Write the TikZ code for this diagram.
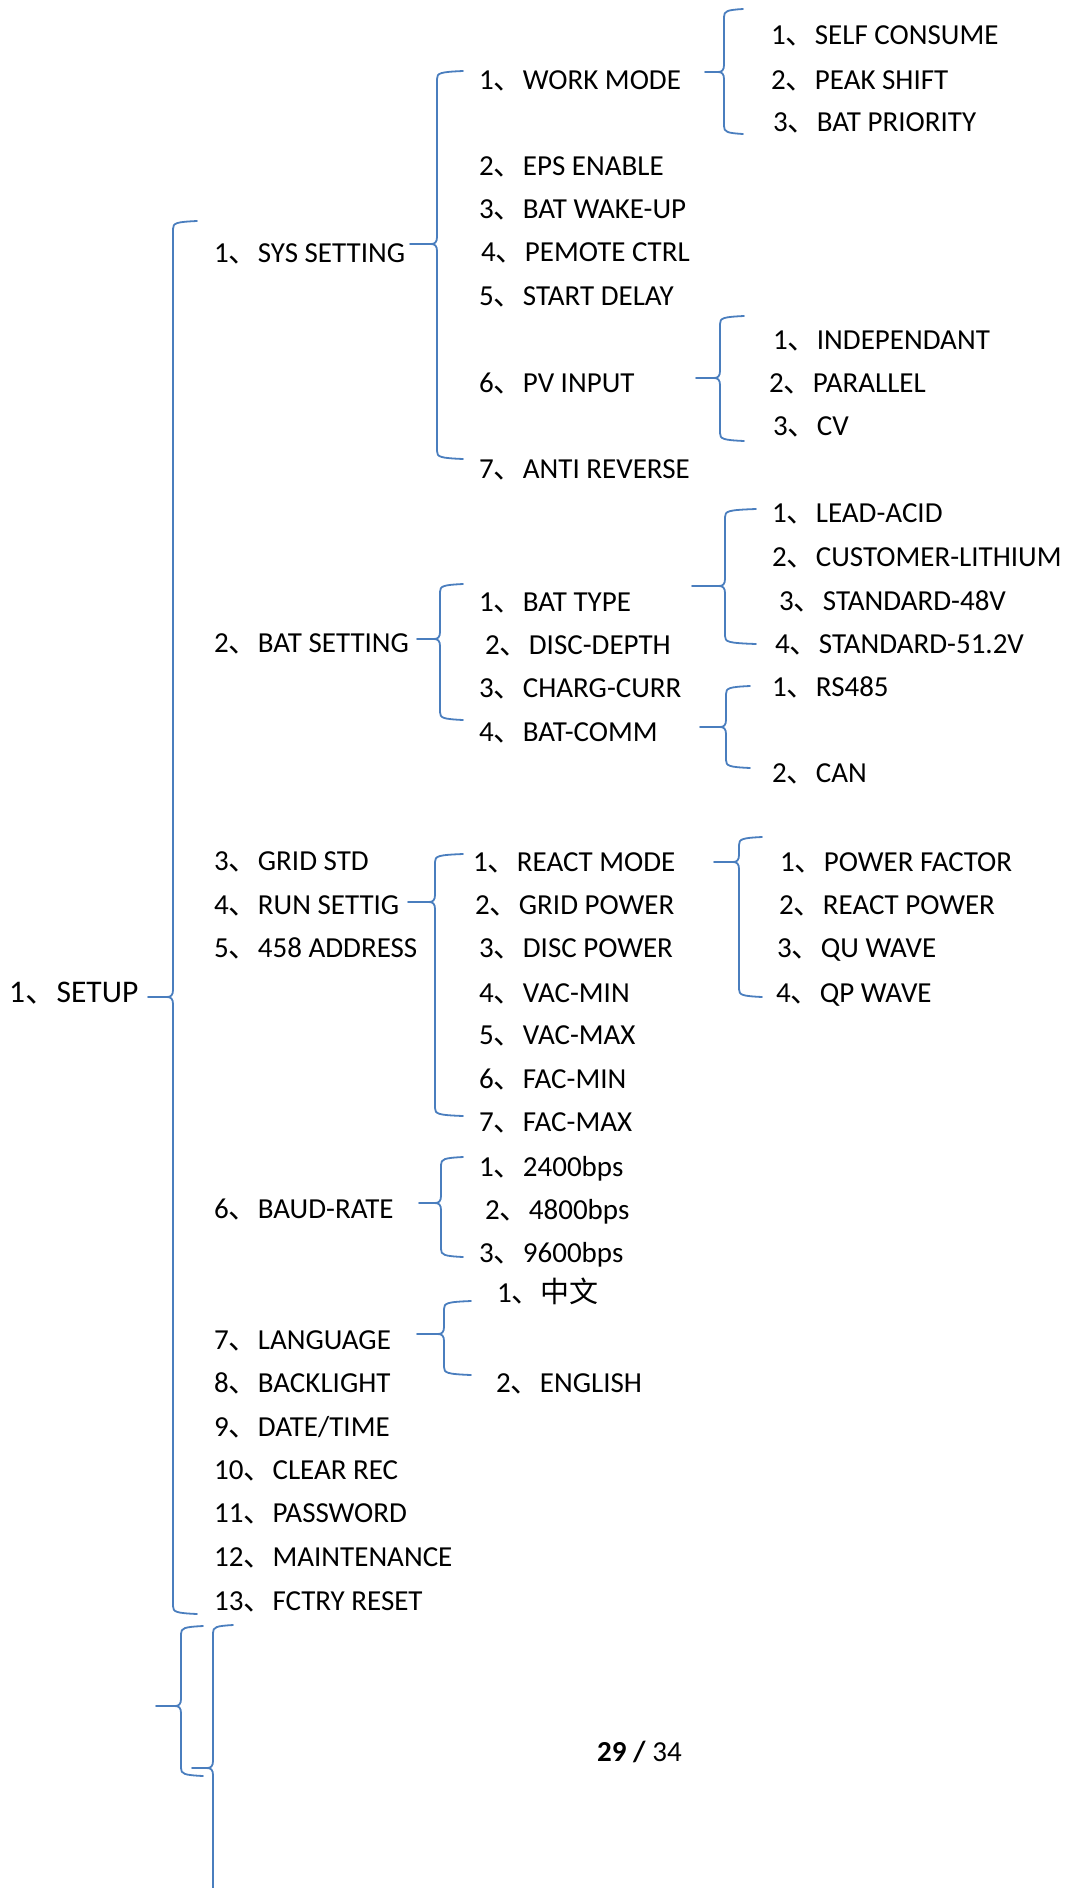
\documentclass[tikz,border=0pt]{standalone}
\usepackage{fontspec}
\setmainfont{Carlito}
\newfontfamily\cjk{Noto Sans CJK SC}
\newcommand{\dn}{{\cjk 、}}
\definecolor{bracecol}{RGB}{74,126,190}
\tikzset{
  item/.style={anchor=base west, inner sep=0pt, font=\fontsize{29}{29}\selectfont},
  bigitem/.style={anchor=base west, inner sep=0pt, font=\fontsize{31.5}{31.5}\selectfont},
  brc/.style={draw=bracecol, line width=1.8pt, line cap=round, line join=round}
}
% #1 name, #2 x, #3 y-centre, #4 text
\newcommand{\itm}[4]{\node[item] (#1) at (#2,#3+9) {#4};}
% brace: #1 tipx, #2 tipy, #3 vertical x, #4 top y, #5 bottom y, #6 end x
\newcommand{\curly}[6]{%
  \draw[brc] (#6,#4-1) .. controls (#3+3,#4) and (#3,#4+1) .. (#3,#4+7)
     -- (#3,#2-7) .. controls (#3,#2-2) and (#3-2,#2) .. (#3-6,#2) -- (#1,#2);
  \draw[brc] (#3-6,#2) .. controls (#3-2,#2) and (#3,#2+2) .. (#3,#2+7)
     -- (#3,#5-7) .. controls (#3,#5-1) and (#3+3,#5) .. (#6,#5+1);
}
\begin{document}
\begin{tikzpicture}[x=1pt,y=-1pt]
\path[use as bounding box] (0,0) rectangle (1068,1888);

% level 1
\node[bigitem] (setup) at (9,1002) {1\dn SETUP};

% level 2
\itm{sys}{214}{253}{1\dn SYS SETTING}
\itm{bat}{214}{643}{2\dn BAT SETTING}
\itm{grid}{214}{861}{3\dn GRID STD}
\itm{run}{214}{905}{4\dn RUN SETTIG}
\itm{addr}{214}{948}{5\dn 458 ADDRESS}
\itm{baud}{214}{1209}{6\dn BAUD-RATE}
\itm{lang}{214}{1340}{7\dn LANGUAGE}
\itm{back}{214}{1383}{8\dn BACKLIGHT}
\itm{date}{214}{1427}{9\dn DATE/TIME}
\itm{clr}{214}{1470}{10\dn CLEAR REC}
\itm{pwd}{214}{1513}{11\dn PASSWORD}
\itm{mnt}{214}{1557}{12\dn MAINTENANCE}
\itm{fct}{214}{1601}{13\dn FCTRY RESET}

% level 3: SYS SETTING
\itm{work}{479}{80}{1\dn WORK MODE}
\itm{eps}{479}{166}{2\dn EPS ENABLE}
\itm{wake}{479}{209}{3\dn BAT WAKE-UP}
\itm{pem}{481}{252}{4\dn PEMOTE CTRL}
\itm{start}{479}{296}{5\dn START DELAY}
\itm{pv}{479}{383}{6\dn PV INPUT}
\itm{anti}{479}{469}{7\dn ANTI REVERSE}
% level 3: BAT SETTING
\itm{btype}{479}{602}{1\dn BAT TYPE}
\itm{disc}{485}{645}{2\dn DISC-DEPTH}
\itm{charg}{479}{688}{3\dn CHARG-CURR}
\itm{bcomm}{479}{732}{4\dn BAT-COMM}
% level 3: RUN SETTIG
\itm{react}{473}{862}{1\dn REACT MODE}
\itm{gpow}{475}{905}{2\dn GRID POWER}
\itm{dpow}{479}{948}{3\dn DISC POWER}
\itm{vmin}{479}{993}{4\dn VAC-MIN}
\itm{vmax}{479}{1035}{5\dn VAC-MAX}
\itm{fmin}{479}{1079}{6\dn FAC-MIN}
\itm{fmax}{479}{1122}{7\dn FAC-MAX}
% level 3: BAUD-RATE
\itm{b24}{479}{1167}{1\dn 2400bps}
\itm{b48}{485}{1210}{2\dn 4800bps}
\itm{b96}{479}{1253}{3\dn 9600bps}
% level 3: LANGUAGE
\itm{zh}{497}{1293}{1\dn {\cjk 中文}}
\itm{en}{496}{1383}{2\dn ENGLISH}

% level 4
\itm{self}{771}{35}{1\dn SELF CONSUME}
\itm{peak}{771}{80}{2\dn PEAK SHIFT}
\itm{prio}{773}{122}{3\dn BAT PRIORITY}
\itm{indep}{773}{340}{1\dn INDEPENDANT}
\itm{para}{769}{383}{2\dn PARALLEL}
\itm{cv}{773}{426}{3\dn CV}
\itm{lead}{772}{513}{1\dn LEAD-ACID}
\itm{cust}{772}{557}{2\dn CUSTOMER-LITHIUM}
\itm{s48}{779}{601}{3\dn STANDARD-48V}
\itm{s51}{775}{644}{4\dn STANDARD-51.2V}
\itm{rs}{772}{687}{1\dn RS485}
\itm{can}{772}{773}{2\dn CAN}
\itm{pf}{780}{862}{1\dn POWER FACTOR}
\itm{rp}{779}{905}{2\dn REACT POWER}
\itm{qu}{777}{948}{3\dn QU WAVE}
\itm{qp}{776}{993}{4\dn QP WAVE}

% page number
\node[item] (page) at (597,1761) {\textbf{29 /} 34};

% braces
\curly{148}{997}{173}{222}{1613}{197}
\curly{410}{244}{437}{72}{458}{463}
\curly{705}{72}{724}{10}{133}{743}
\curly{696}{378}{720}{317}{440}{744}
\curly{417}{639}{440}{585}{719}{463}
\curly{692}{586}{725}{510}{643}{756}
\curly{700}{727}{726}{687}{767}{750}
\curly{408}{902}{435}{855}{1115}{463}
\curly{714}{862}{739}{838}{996}{762}
\curly{419}{1203}{441}{1158}{1256}{463}
\curly{417}{1334}{444}{1302}{1374}{471}
\curly{156}{1706}{181}{1627}{1775}{203}
\curly{192}{1768}{213}{1626}{1900}{233}
\end{tikzpicture}
\end{document}
